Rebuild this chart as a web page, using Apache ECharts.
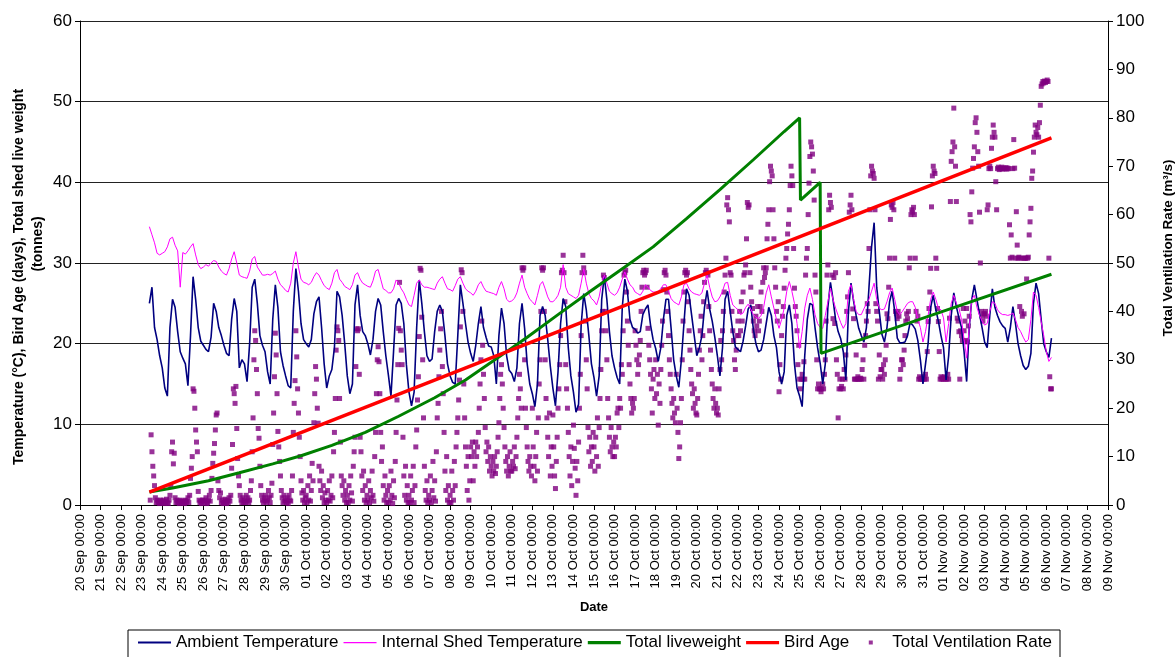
<!DOCTYPE html>
<html>
<head>
<meta charset="utf-8">
<script src="https://cdn.jsdelivr.net/npm/echarts/dist/echarts.min.js"></script>
<style>
html, body { margin: 0; padding: 0; background: #fff; }
#main { width: 1175px; height: 657px; }
</style>
</head>
<body>
<div id="main"></div>
<script>
// x axis: one tick per day, 20 Sep .. 09 Nov
var tickLabels = [
    '20 Sep 00:00', '21 Sep 00:00', '22 Sep 00:00', '23 Sep 00:00', '24 Sep 00:00',
    '25 Sep 00:00', '26 Sep 00:00', '27 Sep 00:00', '28 Sep 00:00', '29 Sep 00:00',
    '30 Sep 00:00', '01 Oct 00:00', '02 Oct 00:00', '03 Oct 00:00', '04 Oct 00:00',
    '05 Oct 00:00', '06 Oct 00:00', '07 Oct 00:00', '08 Oct 00:00', '09 Oct 00:00',
    '10 Oct 00:00', '11 Oct 00:00', '12 Oct 00:00', '13 Oct 00:00', '14 Oct 00:00',
    '15 Oct 00:00', '16 Oct 00:00', '17 Oct 00:00', '18 Oct 00:00', '19 Oct 00:00',
    '20 Oct 00:00', '21 Oct 00:00', '22 Oct 00:00', '23 Oct 00:00', '24 Oct 00:00',
    '25 Oct 00:00', '26 Oct 00:00', '27 Oct 00:00', '28 Oct 00:00', '29 Oct 00:00',
    '30 Oct 00:00', '31 Oct 00:00', '01 Nov 00:00', '02 Nov 00:00', '03 Nov 00:00',
    '04 Nov 00:00', '05 Nov 00:00', '06 Nov 00:00', '07 Nov 00:00', '08 Nov 00:00',
    '09 Nov 00:00'
];

// first logged day, readings of each row are in the order of the day
var firstDay = '23 Sep 00:00';

// ambient temperature, 3-hourly (00,03,..,21); first row starts 09:00, last ends 06:00
var ambientTemp = [
    [25, 27, 22, 20.5, 18.5],
    [17, 14.5, 13.5, 22, 25.5, 24.5, 21.5, 19],
    [18.2, 17.5, 14.8, 21, 28.3, 25.5, 22, 20.3],
    [19.8, 19.3, 19, 20.8, 25, 24, 22, 21],
    [19.8, 18.8, 18.5, 23, 25.6, 24, 17, 18],
    [17.5, 15.3, 20, 27, 28, 25, 21, 19.8],
    [19, 16.5, 15, 23, 27.3, 24.5, 19, 17.3],
    [16, 14.8, 14.5, 24, 29.3, 26.5, 22.5, 20.5],
    [20, 19.6, 20.5, 23.7, 25.2, 25.8, 22, 17.5],
    [14.5, 16, 16.8, 19.5, 26.5, 25.8, 23.5, 20],
    [16, 13.8, 15, 24.8, 27.3, 23.5, 21.5, 21],
    [20, 18.6, 20.5, 24, 25.6, 24.8, 21.5, 18.5],
    [16.1, 13.5, 19, 24.8, 25.6, 25, 22.5, 17.4],
    [14, 12.3, 14, 22, 27.9, 25, 21.5, 18.5],
    [17.8, 18.1, 21.5, 24, 24.8, 24, 21, 17.5],
    [16, 15.2, 15, 21, 27.3, 25, 22.5, 20.2],
    [18.8, 17.8, 19.8, 22.5, 24.6, 22, 20.8, 19.7],
    [19.6, 18.5, 15, 21, 24.4, 22.5, 18.5, 16.7],
    [16.3, 15.3, 17, 22.5, 25, 21.9, 17.5, 15],
    [13.8, 12.2, 15, 23.5, 24.6, 23.5, 20.5, 17.2],
    [14.5, 12.3, 16.5, 22.5, 25.6, 24.6, 19.5, 16],
    [14, 11.5, 12.5, 22.3, 26.2, 24.2, 21, 17.5],
    [15.8, 13.5, 16, 25.5, 28.4, 25.5, 21.5, 18.5],
    [17, 15.8, 15, 24.5, 28, 26.5, 23, 22],
    [21.8, 21.3, 21.5, 23.6, 24.3, 24.8, 22.3, 20.5],
    [19.4, 17.8, 19.5, 23, 25.5, 25.5, 21.9, 18],
    [16, 14.6, 18, 22.5, 26.8, 26, 23.5, 21],
    [18.5, 19.5, 21, 24.5, 26.6, 24.3, 22.8, 20.8],
    [18.5, 16, 19.5, 25.5, 26.5, 24, 21.5, 19.6],
    [19.3, 19, 20.3, 22.2, 24.3, 24.8, 21.8, 20],
    [19, 19.2, 20.5, 22.5, 24.5, 23.5, 21, 19.5],
    [16.5, 15, 16.5, 23.5, 24.8, 22.5, 17.5, 14.5],
    [13.5, 12.2, 18.5, 23, 25, 24.8, 22, 19.5],
    [17.6, 15, 17.5, 24.5, 27.6, 25.5, 23, 21.5],
    [20.6, 19, 15.5, 24, 27.5, 25.3, 23.5, 21.9],
    [21, 20.2, 22, 27, 32, 35, 27, 24],
    [21.2, 20.2, 22, 25.2, 26.5, 24, 20.7, 20.1],
    [20.1, 20.2, 21, 22.6, 22.3, 21.8, 20.4, 18],
    [15, 17.5, 20, 24.5, 26, 24.2, 22.8, 21],
    [19.5, 15.5, 18.5, 23.5, 26.3, 24.6, 23.2, 22],
    [19, 15.3, 22, 25.5, 27.3, 25.5, 23.7, 22],
    [20.2, 19.5, 23.5, 26.8, 24.5, 23.5, 22.7, 22.2],
    [21.9, 20.2, 22, 24.6, 22.5, 20, 18.5, 17.3],
    [16.8, 17.2, 18.8, 25, 27.5, 26.2, 23, 20],
    [19, 18.3, 20.7]
];

// internal shed temperature, 3-hourly, same timing as ambient
var shedTemp = [
    [34.5, 33.5, 32.5, 31.2, 31],
    [31.2, 31.4, 32, 33, 33.2, 32.2, 31.5, 27],
    [31.3, 31.1, 31.5, 32, 32.4, 31, 29.8, 29.3],
    [29.5, 29.8, 29.6, 30, 30.3, 30.2, 29.5, 29],
    [28.7, 28.5, 29.3, 30.5, 31.4, 30, 28.5, 28.3],
    [28.2, 28.1, 29, 30.5, 30.8, 29.5, 29, 28.5],
    [28.5, 28.6, 28.5, 28.7, 29, 28, 27.3, 27],
    [26.6, 26.4, 27.5, 30, 31.4, 29.5, 28, 27.6],
    [27.5, 27.3, 27.6, 28.3, 28.8, 28.5, 27.8, 27.2],
    [26.9, 26.7, 27.5, 28.8, 29.2, 28, 27.6, 27.1],
    [26.9, 26.7, 27.3, 28.5, 28.8, 28, 27.5, 27.3],
    [27.1, 27, 27.8, 29, 29.2, 28, 26.8, 26.6],
    [26.3, 26.3, 26.8, 27.9, 27.5, 26.8, 26.3, 25.5],
    [24.8, 24.6, 26, 27.5, 27.9, 27.3, 27, 27],
    [26.9, 26.8, 26.7, 27.5, 28, 28.3, 27.5, 26.8],
    [26.7, 26.5, 27.2, 28, 28.3, 27.5, 26.8, 26.5],
    [26.3, 26, 26.5, 27.3, 27.7, 27, 26.5, 26.4],
    [26.3, 26.2, 26, 27, 27.7, 26.8, 25.5, 25.2],
    [25.3, 25.6, 26.3, 27.5, 28.5, 27, 26.2, 25.5],
    [25.2, 24.8, 26, 27.3, 27.7, 26.8, 25.8, 25.2],
    [25.2, 25.5, 26, 27, 29.8, 27, 26.2, 26],
    [25.8, 25.6, 26, 27.5, 29.3, 27.5, 26.2, 25.6],
    [25.3, 24.8, 25.8, 27.5, 28.5, 27.5, 26.5, 26.2],
    [26, 26.3, 27, 28, 28.9, 28, 27.3, 27],
    [26.4, 26.2, 26, 26.5, 27.3, 27, 26.6, 26.4],
    [26.4, 26.5, 26.8, 27.3, 27.3, 26.5, 25.6, 25.2],
    [25, 24.8, 25.8, 27.3, 27.5, 26.8, 26.4, 26.2],
    [26.1, 26, 26.3, 27.5, 28.5, 27, 25.8, 25.2],
    [25.3, 25.8, 26.5, 27.5, 27.6, 26, 24.8, 24.5],
    [24.2, 23.6, 23.8, 24.5, 24.9, 24.3, 23.6, 23.3],
    [23.1, 23.5, 24.5, 26.3, 27.3, 25.8, 24.4, 23],
    [21.9, 23, 24.4, 26.5, 27.7, 26.5, 25, 22.5],
    [19.4, 21.5, 24.4, 26, 26.9, 25.5, 23.6, 22.5],
    [22, 21.9, 23.5, 25.2, 26.9, 25.5, 24.4, 23.5],
    [22.6, 21.9, 22.5, 26.5, 27.3, 25.5, 24, 23.6],
    [23.6, 24.3, 25, 25.5, 26.5, 27.5, 25.5, 24.4],
    [24.2, 24.3, 25.2, 26.3, 26.9, 25.5, 24, 23.6],
    [24, 24.5, 25, 25.2, 25.2, 24.5, 23, 22],
    [20.2, 21.5, 23.5, 25.5, 26.4, 25.5, 24.4, 24.2],
    [23.2, 20.2, 22.5, 25, 26, 25, 24.4, 23],
    [20.5, 18.2, 22, 25.5, 26, 24.5, 23.5, 22.8],
    [22.3, 22.5, 24, 25.2, 25, 24.2, 23.8, 23.6],
    [23.6, 23.5, 23.6, 23.8, 23, 22, 21.5, 20.8],
    [20.2, 20.5, 23, 26.4, 26, 24.5, 22.7, 21],
    [19, 17.8, 18.3]
];

// total ventilation rate (m3/s), hourly; first row starts 10:00, last ends 06:00
var ventRate = [
    [1, 14.5, 11, 8, 6, 4, 1.5, 0.5, 1, 0.5, 0.8, 0.3, 1, 0.5],
    [0.5, 1, 0.3, 0.8, 0.5, 1.2, 0.5, 0.3, 1, 2, 4, 11, 13, 8.5, 10.7, 1.5, 0.5, 1, 0.5, 0.8, 0.3, 1, 0.5, 0.8],
    [0.5, 0.8, 0.3, 1, 0.5, 0.8, 1.5, 0.5, 2, 5.5, 7.6, 10, 24, 23.5, 20, 15.5, 13, 11, 2.8, 1, 0.5, 0.8, 0.3, 1],
    [1, 0.5, 0.8, 1.5, 0.3, 0.5, 1, 2, 0.8, 3, 5.5, 8.6, 10.7, 12.7, 15.5, 18.6, 19, 5, 3, 1.5, 2.5, 0.5, 1, 0.3],
    [0.5, 1.2, 0.8, 0.3, 1, 0.5, 1.5, 0.8, 2, 7.6, 12.5, 24, 23, 21, 24.5, 15.8, 9.6, 6, 4, 2, 1, 0.5, 1.5, 0.5],
    [1, 0.5, 2, 0.8, 1.5, 0.5, 1, 3, 5, 11, 18, 30, 36, 34, 28, 23, 15.8, 13.8, 8, 4, 2, 1, 0.5, 1.5],
    [0.8, 2, 0.5, 1, 3, 1.5, 0.5, 2, 4.5, 12.5, 19, 26.5, 35.5, 31, 23, 15.2, 12, 9, 6, 3, 1.5, 0.5, 2, 0.8],
    [1, 0.5, 1.5, 0.3, 2, 1, 0.8, 3, 6, 15, 21, 25.7, 36, 30.6, 24, 19, 14, 10, 5, 2.5, 1, 3, 0.5, 1.5],
    [2, 0.5, 4, 1, 6, 0.8, 3, 8.6, 5, 17, 23, 28.6, 26, 20, 16.9, 8, 5, 3, 7, 1.5, 4, 0.5, 2.5, 1],
    [0.5, 3, 1, 5, 0.8, 2, 6, 1.5, 11, 15, 22, 32, 36.8, 36, 34, 22, 13, 6, 4, 2, 5, 1, 3, 0.5],
    [2, 0.5, 4, 1, 6, 2.5, 0.8, 8, 11, 14, 28.6, 36.4, 36, 36.4, 27, 14, 11, 6, 3, 7, 1, 4, 0.5, 2],
    [1, 5, 0.5, 3, 1.5, 7, 2, 0.8, 10, 15, 23, 30, 32.7, 29.6, 23, 15, 9, 12, 4, 1, 6, 2, 0.5, 3],
    [0.5, 4, 1, 7, 2, 0.3, 5, 1.5, 9, 15, 21.7, 29, 36.5, 46, 36, 32, 29, 14, 6, 2, 8, 1, 4, 0.5],
    [2, 0.5, 6, 1, 3, 8, 0.5, 4, 12, 15.5, 21.7, 26.5, 34.8, 48.9, 48.5, 38.8, 30, 18, 8, 3, 1, 5, 0.5, 2],
    [1, 6, 0.5, 3, 9, 1.5, 5, 0.8, 11, 18, 21, 26.5, 32, 36.4, 40, 28.6, 23, 15, 7, 3, 10, 1, 4, 0.5],
    [2, 0.5, 7, 3, 1, 9, 4, 12, 15, 18, 21.7, 25.8, 36.8, 48.6, 48, 40, 25, 18, 12, 8, 3, 10, 1, 5],
    [12, 10, 13, 5, 11, 8, 13, 10, 12, 15, 20, 25, 30, 38, 33, 27, 22, 16, 11, 13, 9, 12, 7, 10],
    [8, 6, 9, 7, 10, 6.5, 8, 11, 14, 17, 22, 27, 29, 25, 20, 16, 12, 9, 7, 10, 6, 8, 11, 7],
    [7, 9, 8, 12, 7.5, 10, 14, 18, 22, 27, 24, 20, 49, 48.5, 49, 30, 20, 16, 12, 9, 7, 10, 8, 6],
    [20, 12, 8, 5, 10, 15, 7, 18, 25, 30, 40, 49, 48.5, 49, 40, 30, 22, 18, 14, 10, 19, 6, 12, 8],
    [18.6, 12, 6, 3.4, 9, 14, 20, 24, 29, 35, 48, 48.5, 51.6, 48, 42, 29, 24, 20, 15, 10, 6, 12, 4, 9],
    [16.5, 11.7, 7.6, 2, 9, 5, 13, 20, 27, 35, 48, 51.6, 49, 48, 38, 30, 24, 16, 11, 14, 8, 12, 9, 15],
    [12, 7, 14, 10, 18, 8, 16, 22, 28, 36, 40, 47.5, 47, 40, 36, 30, 22, 18, 14, 11, 16, 12, 10, 13],
    [10, 14, 12, 19, 20, 16, 22, 20, 29, 27, 36, 47.5, 48, 48.5, 44, 38, 33, 29, 25, 22, 19, 21, 20, 22],
    [36, 33, 30, 27, 29, 31, 34, 40, 45, 48, 48.5, 47.5, 48, 48.5, 45, 36.5, 33, 30, 27, 24, 19, 26, 28, 22],
    [30, 23, 27, 16.5, 25, 21, 28, 33, 38, 44.5, 48, 48.5, 47.5, 44, 40, 35, 30, 27, 24, 21, 18, 22, 19, 17],
    [27, 20, 15, 9.6, 12, 17, 22, 30, 38, 44, 48, 48.5, 47.5, 48, 42, 36, 32, 28, 25, 23, 20, 24, 21, 19],
    [18.6, 22, 27, 32, 36, 39, 30, 35, 42, 46, 48, 48.5, 48, 47.5, 41, 36, 32, 28, 25, 22, 20, 24, 21, 19],
    [20, 18.6, 24, 28, 34, 30, 36, 40, 44, 47.5, 51, 62, 63.5, 61, 58.5, 48, 47.5, 40, 36, 34, 30, 28, 32, 35],
    [38, 35, 40, 36, 42, 38, 44, 47.5, 48, 49.6, 55, 62.5, 61.5, 62, 48, 45, 42, 40.6, 38, 36, 35, 39, 37, 41],
    [36, 38, 41, 44, 40, 46, 49, 47, 48, 49, 55, 58, 61, 66.8, 70, 69, 68, 61, 55, 49, 45, 40, 38, 42],
    [23.4, 29, 26, 35, 39, 41, 44.8, 48.5, 51, 53, 56, 58, 61, 66, 70, 68, 66, 53, 44.8, 41, 39, 36, 29, 33],
    [26, 24, 26, 27, 26, 29.6, 26, 47.5, 51, 53, 60, 66.5, 72, 75, 74, 72.5, 69, 63, 47.5, 44, 30, 24, 25, 24],
    [24, 23.4, 24, 25, 24, 27, 30, 38, 47.5, 49.6, 61, 64, 62.5, 61.5, 47.5, 38.5, 47, 37.5, 48, 30, 27, 18, 24, 26],
    [24, 24.5, 26, 24, 28, 26, 31, 40, 43, 48, 60.5, 62, 64, 61, 40.5, 38.5, 26, 26, 31, 26, 26.5, 26, 26, 26.2],
    [26, 28, 30, 26, 33, 35, 38, 41.6, 40, 53, 61, 68, 70, 69, 68.5, 67.5, 61, 41.6, 40, 38, 26, 31, 26.5, 28],
    [28, 26, 29, 27, 30, 33, 39.5, 38.5, 45, 51, 59, 62, 61.5, 62.5, 61, 51, 40, 39.5, 38.5, 40, 39, 26, 28, 30],
    [30, 29, 32, 35, 38, 39.5, 38.5, 40, 49, 51, 60, 61, 60.5, 61.5, 60, 51, 40, 38, 39, 26, 26.5, 26, 26.2, 26],
    [26, 26.5, 26, 27, 26, 31.7, 37.9, 40.6, 44, 48.9, 61.6, 68, 70, 69, 68.5, 51, 48.9, 40.6, 37.9, 31.7, 26, 26.5, 26, 26.3],
    [26, 26.5, 26, 26.2, 26, 27, 26, 38.6, 62.7, 71, 73, 75, 82, 74, 70, 62.7, 38.6, 38, 35.8, 26, 36, 35, 34, 40.6],
    [36, 38, 34, 40.6, 33.7, 37, 39, 60, 58.5, 64.7, 69.6, 71.6, 74, 79, 80, 77, 73, 70, 60.5, 50, 40, 39, 38, 39.5],
    [39.5, 40, 39, 61, 62, 69.5, 70, 69.5, 73.7, 76, 78.5, 77, 76, 66.8, 61, 69.5, 69.8, 69.3, 69.6, 69.5, 69.8, 69.4, 69.6, 69.5],
    [69.5, 69.7, 69.4, 69.6, 69.5, 57.9, 51, 55.8, 51.2, 69.5, 75.5, 69.6, 51, 60.6, 53.7, 51, 51.2, 41, 51, 40, 39, 51, 39.5, 51],
    [51, 46.7, 51, 51.2, 55.8, 58.5, 61.3, 67.5, 69, 72.9, 76, 78.5, 77, 76.5, 78, 76, 79, 82.6, 86.5, 87, 87.5, 87.2, 87.6, 87.3],
    [87.5, 87.8, 87.5, 51, 26.5, 24, 24]
];

// total shed liveweight (tonnes), read at the corners of the line
var liveweightTimes = [
    '23 Sep 09:00', '24 Sep 12:00', '26 Sep 06:00', '27 Sep 18:00', '29 Sep 09:00',
    '30 Sep 18:00', '02 Oct 06:00', '03 Oct 21:00', '05 Oct 12:00', '07 Oct 06:00',
    '08 Oct 18:00', '10 Oct 03:00', '11 Oct 18:00', '13 Oct 06:00', '14 Oct 21:00',
    '16 Oct 12:00', '17 Oct 21:00', '19 Oct 12:00', '21 Oct 03:00', '22 Oct 18:00',
    '24 Oct 06:00', '25 Oct 00:00', '25 Oct 01:00', '26 Oct 00:00', '26 Oct 01:00',
    '31 Oct 12:00', '06 Nov 06:00'
];
var liveweight = [
    1.6, 2.1, 3.0, 4.0, 5.1,
    6.1, 7.4, 9.0, 11.0, 13.3,
    15.5, 17.9, 20.8, 23.6, 26.6,
    29.5, 32.0, 35.5, 39.1, 42.8,
    46.3, 48.0, 37.8, 40.0, 18.8,
    23.6, 28.6
];

// bird age (days)
var birdAgeTimes = ['23 Sep 09:00', '06 Nov 06:00'];
var birdAge = [1.6, 45.5];

var FONT = '"Liberation Sans", Arial, sans-serif';

// legend icons drawn in a 33x14 box (zero-area corners fix the box size)
var BOX = 'M0,0h1v0h-1zM33,14h-1v0h1z';
var legendIcons = {
    'Ambient Temperature': 'path://' + BOX + 'M0,6h33v2h-33z',
    'Internal Shed Temperature': 'path://' + BOX + 'M0,6.5h33v1.2h-33z',
    'Total liveweight': 'path://' + BOX + 'M0,5.5h33v3.2h-33z',
    'Bird Age': 'path://' + BOX + 'M0,5.5h33v3.2h-33z',
    'Total Ventilation Rate': 'path://' + BOX + 'M14.5,5h4v4h-4z'
};
var legendNames = ['Ambient Temperature', 'Internal Shed Temperature', 'Total liveweight', 'Bird Age', 'Total Ventilation Rate'];

/** day position on the x axis of a 'DD Mon HH:MM' string */
function dayOf(label) {
    var parts = label.split(' ');
    var hm = parts[2].split(':');
    var key = parts[0] + ' ' + parts[1];
    for (var i = 0; i < tickLabels.length; i++) {
        if (tickLabels[i].indexOf(key) === 0) {
            return i + (parseInt(hm[0], 10) + parseInt(hm[1], 10) / 60) / 24;
        }
    }
    return null;
}

/** rows of readings per day -> [x, y] pairs; first row ends at midnight */
function fromRows(rows, stepHours) {
    var start = dayOf(firstDay);
    var out = [];
    for (var k = 0; k < rows.length; k++) {
        var row = rows[k];
        var offset = k === 0 ? 24 - row.length * stepHours : 0;
        for (var j = 0; j < row.length; j++) {
            out.push([start + k + (offset + j * stepHours) / 24, row[j]]);
        }
    }
    return out;
}

function pairs(times, values) {
    var out = [];
    for (var i = 0; i < times.length; i++) {
        out.push([dayOf(times[i]), values[i]]);
    }
    return out;
}

var chart = echarts.init(document.getElementById('main'));

var option = {
    animation: false,
    backgroundColor: '#fff',
    grid: { left: 80, right: 67, top: 21, bottom: 152, containLabel: false, outerBoundsMode: 'none' },
    legend: {
        left: 128,
        top: 630,
        padding: [4, 8, 8, 10],
        itemGap: 5,
        itemWidth: 33,
        itemHeight: 14,
        borderColor: '#000',
        borderWidth: 1,
        textStyle: { fontFamily: FONT, fontSize: 17, color: '#000' },
        data: legendNames.map(function (n) { return { name: n, icon: legendIcons[n] }; })
    },
    xAxis: {
        type: 'value',
        min: 0,
        max: 50,
        interval: 1,
        name: 'Date',
        nameLocation: 'middle',
        nameGap: 96,
        nameMoveOverlap: false,
        nameTextStyle: { fontFamily: FONT, fontWeight: 'bold', fontSize: 13, color: '#000' },
        axisLine: { lineStyle: { color: '#000', width: 1 } },
        axisTick: { length: 5, lineStyle: { color: '#000' } },
        axisLabel: {
            rotate: 90,
            margin: 9,
            fontFamily: FONT,
            fontSize: 13,
            color: '#000',
            formatter: function (v) { return tickLabels[Math.round(v)]; }
        },
        splitLine: { show: false }
    },
    yAxis: [{
        type: 'value',
        min: 0,
        max: 60,
        interval: 10,
        position: 'left',
        name: 'Temperature (°C), Bird Age (days), Total shed live weight\n                 (tonnes)',
        nameLocation: 'middle',
        nameRotate: 90,
        nameGap: 32,
        nameMoveOverlap: false,
        nameTextStyle: {
            fontFamily: FONT, fontWeight: 'bold', fontSize: 14, lineHeight: 19, color: '#000',
            padding: [0, 28, 0, 0]
        },
        axisLine: { show: true, lineStyle: { color: '#000' } },
        axisTick: { show: true, length: 5, lineStyle: { color: '#000' } },
        axisLabel: { fontFamily: FONT, fontSize: 17, color: '#000', margin: 8 },
        splitLine: { show: true, lineStyle: { color: '#222', width: 1 } }
    }, {
        type: 'value',
        min: 0,
        max: 100,
        interval: 10,
        position: 'right',
        name: 'Total Ventilation Rate (m³/s)',
        nameLocation: 'middle',
        nameRotate: 90,
        nameGap: 53,
        nameMoveOverlap: false,
        nameTextStyle: {
            fontFamily: FONT, fontWeight: 'bold', fontSize: 13.5, color: '#000',
            padding: [0, 0, 0, 30]
        },
        axisLine: { show: true, lineStyle: { color: '#000' } },
        axisTick: { show: true, length: 5, lineStyle: { color: '#000' } },
        axisLabel: { fontFamily: FONT, fontSize: 17, color: '#000', margin: 8 },
        splitLine: { show: false }
    }],
    series: [{
        name: 'Ambient Temperature',
        type: 'line',
        yAxisIndex: 0,
        symbol: 'none',
        lineStyle: { color: '#000080', width: 1.6 },
        itemStyle: { color: '#000080' },
        data: fromRows(ambientTemp, 3)
    }, {
        name: 'Internal Shed Temperature',
        type: 'line',
        yAxisIndex: 0,
        symbol: 'none',
        lineStyle: { color: '#ff00ff', width: 1 },
        itemStyle: { color: '#ff00ff' },
        data: fromRows(shedTemp, 3)
    }, {
        name: 'Total Ventilation Rate',
        type: 'scatter',
        yAxisIndex: 1,
        symbol: 'rect',
        symbolSize: 5,
        itemStyle: { color: '#800080' },
        data: fromRows(ventRate, 1)
    }, {
        name: 'Total liveweight',
        type: 'line',
        yAxisIndex: 0,
        symbol: 'none',
        lineStyle: { color: '#008000', width: 3 },
        itemStyle: { color: '#008000' },
        data: pairs(liveweightTimes, liveweight)
    }, {
        name: 'Bird Age',
        type: 'line',
        yAxisIndex: 0,
        symbol: 'none',
        lineStyle: { color: '#ff0000', width: 3.5 },
        itemStyle: { color: '#ff0000' },
        data: pairs(birdAgeTimes, birdAge)
    }]
};

chart.setOption(option);
</script>
</body>
</html>
